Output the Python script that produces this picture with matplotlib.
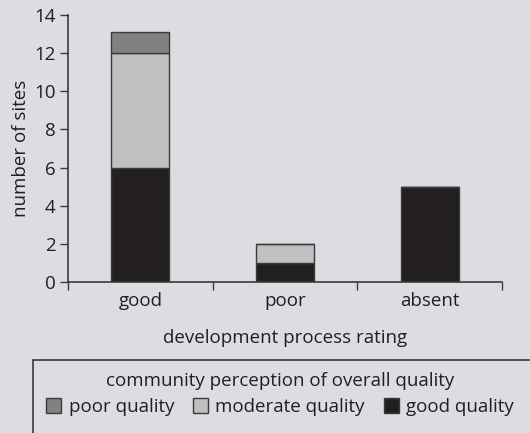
import matplotlib
matplotlib.use("Agg")
import matplotlib.pyplot as plt
from matplotlib.patches import Rectangle
import numpy as np

plt.rcParams['font.family'] = ['Open Sans', 'DejaVu Sans']

categories = ["good", "poor", "absent"]
good_quality = [6.0, 1.0, 5.0]
moderate_quality = [6.0, 1.0, 0.0]
poor_quality = [1.1, 0.0, 0.0]
yticks = [0, 2, 4, 6, 8, 10, 12, 14]

bg = "#dcdde0"
c_dark = "#231f20"
c_mod = "#bfc0c2"
c_poor = "#808183"
edge = "#3a3a3a"
txt = "#231f20"
fs = 13.5

fig = plt.figure(figsize=(5.3, 4.33), dpi=100, facecolor=bg)
ax = fig.add_axes([68/530, 1-282/433, (502-68)/530, (282-15)/433])
ax.set_facecolor(bg)

x = np.arange(len(categories))
w = 0.4
b1 = ax.bar(x, good_quality, w, color=c_dark, edgecolor=edge, linewidth=1, label="good quality")
b2 = ax.bar(x, moderate_quality, w, bottom=good_quality, color=c_mod, edgecolor=edge, linewidth=1, label="moderate quality")
bottom3 = np.array(good_quality) + np.array(moderate_quality)
b3 = ax.bar(x, poor_quality, w, bottom=bottom3, color=c_poor, edgecolor=edge, linewidth=1, label="poor quality")

ax.set_xlim(-0.5, 2.5)
ax.set_ylim(0, 14)
ax.set_yticks(yticks)
ax.set_xticks([-0.5, 0.5, 1.5, 2.5])
ax.set_xticklabels([])
ax.set_xticks(x, minor=True)
ax.set_xticklabels(categories, minor=True)
ax.tick_params(axis='x', which='minor', length=0, pad=7, labelsize=fs, colors=txt)
ax.tick_params(axis='x', which='major', length=6, width=1, color=edge, direction='out')
ax.tick_params(axis='y', length=6, width=1, color=edge, labelsize=fs, labelcolor=txt, pad=3)
for s in ['top', 'right']:
    ax.spines[s].set_visible(False)
for s in ['left', 'bottom']:
    ax.spines[s].set_color(edge)
    ax.spines[s].set_linewidth(1.2)

ax.set_ylabel("number of sites", fontsize=fs, color=txt, labelpad=3)
ax.set_xlabel("development process rating", fontsize=fs, color=txt, labelpad=14)

rect = Rectangle((33/530, -0.05), 1.0, 0.05 + 73/433, transform=fig.transFigure,
                 facecolor=bg, edgecolor=edge, linewidth=1.2)
fig.patches.append(rect)

fig.text(280/530, 1-381/433, "community perception of overall quality", ha='center', va='center',
         fontsize=fs, color=txt)
leg = fig.legend(handles=[b3, b2, b1], labels=["poor quality", "moderate quality", "good quality"],
                 loc='center', bbox_to_anchor=(280/530, 1-407/433), ncol=3, frameon=False,
                 fontsize=fs, handlelength=0.8, handleheight=0.8, handletextpad=0.4,
                 columnspacing=1.0, borderpad=0.2, labelspacing=0.2)
for t in leg.get_texts():
    t.set_color(txt)

fig.savefig("out.png", dpi=100, facecolor=bg)
